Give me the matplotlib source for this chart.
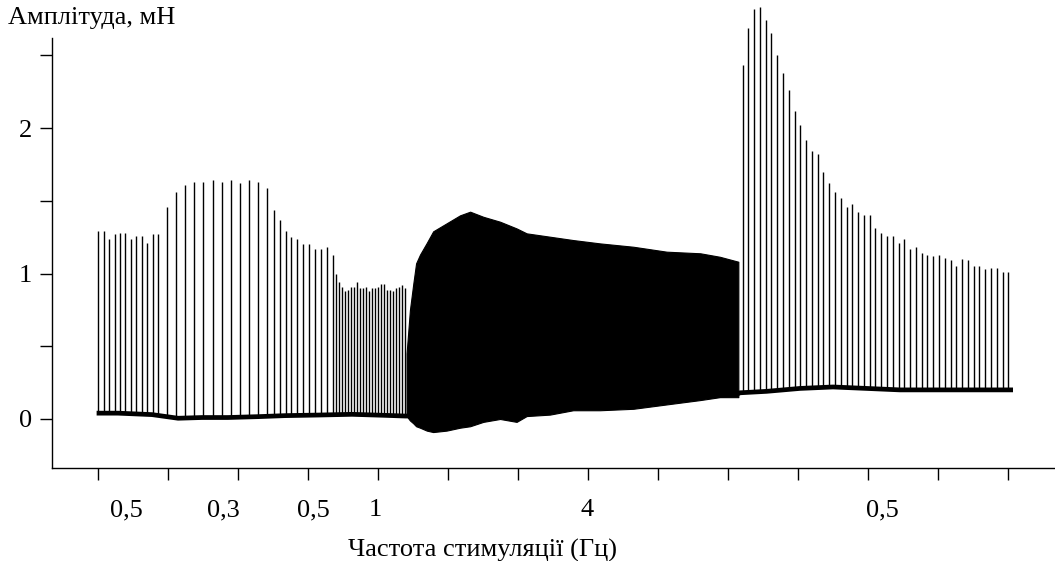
import numpy as np
import matplotlib
matplotlib.use('Agg')
import matplotlib.pyplot as plt

plt.rcParams['font.family'] = ['Liberation Serif', 'DejaVu Serif']

# single-pulse segments: start time (s), pulse interval (s), peak force (mN)
seg_start = [0.0, 24.6, 62.6, 84.9, 230.1]
seg_period = [1.94, 3.24, 2.13, 1.075, 2.064]
seg_peaks = [
    [1.29, 1.29, 1.24, 1.27, 1.28, 1.28, 1.24, 1.26, 1.26, 1.21, 1.27, 1.27],
    [1.46, 1.56, 1.61, 1.63, 1.63, 1.64, 1.63, 1.64, 1.62, 1.64, 1.63, 1.59],
    [1.44, 1.37, 1.29, 1.25, 1.24, 1.20, 1.20, 1.17, 1.17, 1.18, 1.13],
    [1.00, 0.94, 0.91, 0.88, 0.89, 0.91, 0.91, 0.94, 0.90, 0.90, 0.91, 0.88,
     0.90, 0.90, 0.91, 0.93, 0.93, 0.89, 0.89, 0.88, 0.90, 0.91, 0.92, 0.90],
    [2.43, 2.69, 2.82, 2.83, 2.74, 2.65, 2.50, 2.38, 2.26, 2.12, 2.02, 1.92,
     1.84, 1.82, 1.70, 1.62, 1.56, 1.52, 1.46, 1.48, 1.42, 1.40, 1.40, 1.31,
     1.28, 1.26, 1.26, 1.21, 1.24, 1.17, 1.18, 1.14, 1.13, 1.12, 1.13, 1.11,
     1.09, 1.05, 1.10, 1.09, 1.05, 1.05, 1.03, 1.04, 1.04, 1.01, 1.01],
]

# 4 Hz block: envelope of the fused trace
tet_t = [110.1, 111.3, 112.5, 113.5, 114.9, 117.3, 119.6, 124.4, 129.2, 132.8,
         137.5, 143.5, 149.4, 153.0, 161.3, 169.6, 179.2, 191.1, 203.0, 215.0,
         222.0, 228.6]
tet_hi = [0.45, 0.75, 0.93, 1.07, 1.13, 1.21, 1.29, 1.345, 1.40, 1.425,
          1.39, 1.356, 1.31, 1.276, 1.253, 1.23, 1.207, 1.184, 1.15, 1.139,
          1.115, 1.081]
tet_lo = [0.02, -0.01, -0.03, -0.05, -0.06, -0.08, -0.09, -0.08, -0.06, -0.05,
          -0.02, 0.0, -0.02, 0.02, 0.03, 0.06, 0.06, 0.07, 0.10, 0.13,
          0.15, 0.15]

# resting baseline
base_t = [-0.6, 7.0, 19.2, 28.5, 37.0, 46.3, 57.0, 66.7, 78.5, 90.6, 102.4,
          109.9, 228.1, 229.2, 238.7, 250.6, 262.4, 274.4, 286.3, 298.1,
          310.1, 322.0, 326.7]
base_v = [0.04, 0.04, 0.03, 0.005, 0.01, 0.01, 0.016, 0.023, 0.027, 0.032,
          0.025, 0.02, 0.17, 0.18, 0.19, 0.21, 0.22, 0.21, 0.20, 0.20,
          0.20, 0.20, 0.20]

freq_labels = ['0,5', '0,3', '0,5', '1', '4', '0,5']
label_x = [9.9, 44.5, 76.7, 98.8, 174.5, 279.9]

fig = plt.figure(figsize=(10.55, 5.61), dpi=100)
ax = fig.add_axes([52 / 1055, 1 - 468 / 561, 1 - 52 / 1055, 430 / 561])

ax.plot(base_t, base_v, color='black', lw=3.4, solid_capstyle='butt')

pulse_t = []
pulse_v = []
for start, period, peaks in zip(seg_start, seg_period, seg_peaks):
    for i, p in enumerate(peaks):
        pulse_t.append(start + i * period)
        pulse_v.append(p)
pulse_t = np.array(pulse_t)
ax.vlines(pulse_t, np.interp(pulse_t, base_t, base_v), pulse_v,
          color='black', lw=1.0, clip_on=False)

ax.fill_between(tet_t, tet_lo, tet_hi, color='black', lw=0.8, edgecolor='black')

ax.set_xlim(-16.54, 341.7)
ax.set_ylim(-0.337, 2.619)
for s in ['top', 'right']:
    ax.spines[s].set_visible(False)
for s in ['left', 'bottom']:
    ax.spines[s].set_linewidth(1.0)

ax.set_yticks([0, 1, 2])
ax.set_yticks([0.5, 1.5, 2.5], minor=True)
ax.set_xticks(np.arange(0, 326, 25))
ax.set_xticklabels([])
ax.tick_params(axis='both', which='both', direction='out', length=8.6,
               width=1.0, labelsize=19)
ax.tick_params(axis='y', pad=5.8)

for lab, x in zip(freq_labels, label_x):
    ax.text(x, -0.098, lab, transform=ax.get_xaxis_transform(),
            ha='center', va='center', fontsize=19)

fig.text(483 / 1055, 1 - 550 / 561, 'Частота стимуляції (Гц)',
         ha='center', va='center', fontsize=19)
fig.text(8 / 1055, 1 - 18 / 561, 'Амплітуда, мН',
         ha='left', va='center', fontsize=19)

fig.savefig('out.png', dpi=100)
